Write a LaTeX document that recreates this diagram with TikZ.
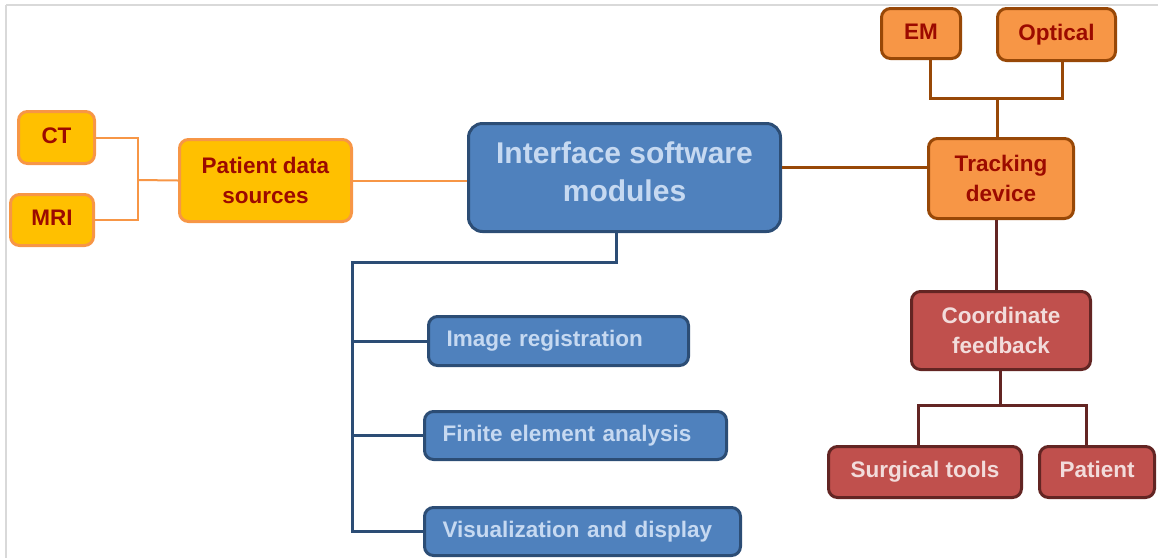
\documentclass[tikz,border=0pt]{standalone}
\usepackage{fontspec}
\setmainfont{Liberation Sans}
\usetikzlibrary{calc}

\definecolor{gold}{HTML}{FFC000}
\definecolor{orangeline}{HTML}{F79646}
\definecolor{orangefill}{HTML}{F79646}
\definecolor{orangedark}{HTML}{984807}
\definecolor{darkredtext}{HTML}{9C0A00}
\definecolor{bluefill}{HTML}{4F81BD}
\definecolor{blueline}{HTML}{2C4D75}
\definecolor{bluetext}{HTML}{C6D9F1}
\definecolor{redfill}{HTML}{C0504D}
\definecolor{redline}{HTML}{632523}
\definecolor{redtext}{HTML}{F2DCDB}
\definecolor{framegray}{HTML}{D9D9D9}

\tikzset{
  box/.style={rounded corners=9pt, line width=3pt, align=center, inner sep=0pt,
    font=\bfseries\fontsize{22.5}{30}\selectfont},
  oneline/.style={text height=16pt, text depth=5pt},
  goldbox/.style={box, fill=gold, draw=orangeline, text=darkredtext},
  orangebox/.style={box, fill=orangefill, draw=orangedark, text=darkredtext},
  redbox/.style={box, fill=redfill, draw=redline, text=redtext},
  bluebox/.style={box, fill=bluefill, draw=blueline, text=bluetext},
  modbox/.style={bluebox, oneline, align=left, inner xsep=18pt},
  goldlink/.style={draw=orangeline, line width=2pt},
  orangelink/.style={draw=orangedark, line width=3pt},
  redlink/.style={draw=redline, line width=3pt},
  bluelink/.style={draw=blueline, line width=3pt},
}

\begin{document}
\begin{tikzpicture}[x=1pt, y=-1pt]
\useasboundingbox (0,0) rectangle (1158,558);

% page frame (top and left edges)
\draw[framegray, line width=2pt] (6,5) -- (1158,5);
\draw[framegray, line width=2pt] (6,5) -- (6,558);

% patient data branch
\node[goldbox, oneline, minimum width=76pt, minimum height=52pt] (ct) at (56.5,137.5) {CT};
\node[goldbox, oneline, minimum width=83pt, minimum height=51pt] (mri) at (52,220) {MRI};
\node[goldbox, minimum width=172pt, minimum height=82pt] (pds) at (265.5,180.5) {Patient data\\sources};

% central module
\node[bluebox, minimum width=312pt, minimum height=108pt, rounded corners=14pt] (iface) at (624.5,177.5) {};
\node[text=bluetext, align=center, font=\bfseries\fontsize{30}{38}\selectfont] (ifacetext) at (624.5,172) {Interface software\\modules};

% software modules
\node[modbox, minimum height=49pt, text width=224pt] (imreg) at (558.5,341) {Image registration};
\node[modbox, minimum height=48pt, text width=266pt] (fea) at (575.5,435.5) {Finite element analysis};
\node[modbox, minimum height=48pt, text width=280pt] (vis) at (582.5,531.5) {Visualization and display};

% tracking branch
\node[orangebox, oneline, minimum width=79pt, minimum height=50pt] (em) at (921,33.5) {EM};
\node[orangebox, oneline, minimum width=118pt, minimum height=52pt] (optical) at (1056.5,34.5) {Optical};
\node[orangebox, minimum width=145pt, minimum height=80pt] (track) at (1001,178.5) {Tracking\\device};

% feedback branch
\node[redbox, minimum width=179pt, minimum height=78pt] (coord) at (1001,330.5) {Coordinate\\feedback};
\node[redbox, oneline, minimum width=193pt, minimum height=51pt] (surg) at (925,472) {Surgical tools};
\node[redbox, oneline, minimum width=115pt, minimum height=51pt] (patient) at (1097,472) {Patient};

% bus points
\coordinate (leftbus) at (138,180);
\coordinate (modbus) at (352,262);
\coordinate (trackbus) at (997,98);
\coordinate (feedbus) at (1000,405);

% connectors: image sources
\draw[goldlink] (ct.east) -| (leftbus) |- (mri.east);
\draw[goldlink] (leftbus) -- (pds.west);
\draw[goldlink] (pds.east) -- (pds.east -| iface.west);

% connectors: interface to modules
\draw[bluelink] ([xshift=-8pt]iface.south) |- (modbus) |- (vis.west);
\draw[bluelink] (imreg.west -| modbus) -- (imreg.west);
\draw[bluelink] (fea.west -| modbus) -- (fea.west);

% connectors: interface to tracking
\draw[orangelink] ([yshift=10pt]iface.east) -- ([yshift=10pt]iface.east -| track.west);
\draw[orangelink] ([xshift=9pt]em.south) |- (trackbus) -| ([xshift=5.5pt]optical.south);
\draw[orangelink] (trackbus) -- (trackbus |- track.north);

% connectors: tracking to feedback
\draw[redlink] ([xshift=-5pt]track.south) -- ([xshift=-5pt]track.south |- coord.north);
\draw[redlink] ([xshift=-1pt]coord.south) -- (feedbus);
\draw[redlink] ([xshift=-7pt]surg.north) |- (feedbus) -| ([xshift=-11pt]patient.north);
\end{tikzpicture}
\end{document}
